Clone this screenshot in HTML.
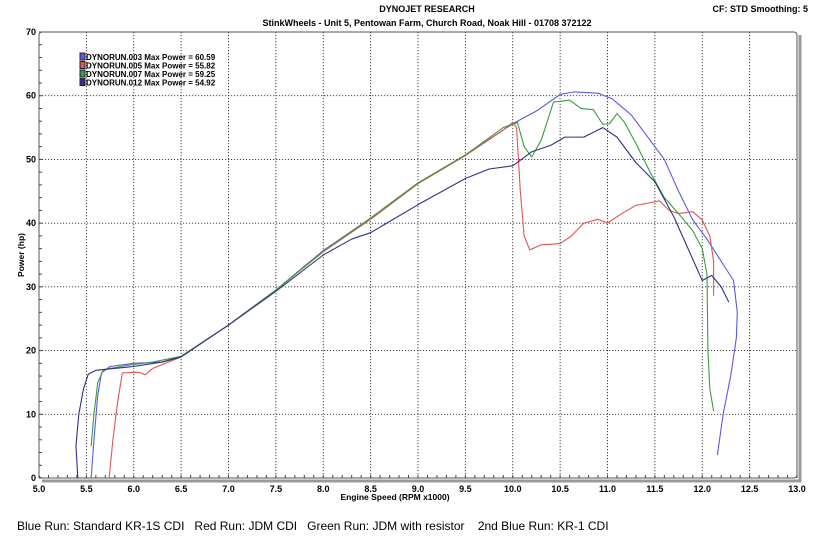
<!DOCTYPE html>
<html><head><meta charset="utf-8"><style>
body{margin:0;background:#fff;width:835px;height:549px;overflow:hidden;font-family:"Liberation Sans",sans-serif}
svg text{font-family:"Liberation Sans",sans-serif}
</style></head><body>
<svg id="c" width="835" height="549">
<text x="427" y="12" font-size="9" font-weight="bold" text-anchor="middle">DYNOJET RESEARCH</text>
<text x="427" y="26" font-size="9" font-weight="bold" text-anchor="middle">StinkWheels - Unit 5, Pentowan Farm, Church Road, Noak Hill - 01708 372122</text>
<text x="808" y="12" font-size="9" font-weight="bold" text-anchor="end">CF: STD  Smoothing: 5</text>
<text x="395" y="500" font-size="8.5" font-weight="bold" text-anchor="middle">Engine Speed (RPM x1000)</text>
<text transform="translate(24,255) rotate(-90)" font-size="8.5" font-weight="bold" text-anchor="middle">Power (hp)</text>
<text x="17" y="530" font-size="12">Blue Run: Standard KR-1S CDI &#160; Red Run: JDM CDI &#160; Green Run: JDM with resistor &#160;&#160; 2nd Blue Run: KR-1 CDI</text>
<g id="grid"></g><g id="series"></g><g id="legend"></g>
</svg>
<script>
const xTicks=[5.0,5.5,6.0,6.5,7.0,7.5,8.0,8.5,9.0,9.5,10.0,10.5,11.0,11.5,12.0,12.5,13.0];
const yTicks=[0,10,20,30,40,50,60,70];
const run003=[[5.55,0],[5.58,6],[5.62,13],[5.66,16.5],[5.75,17.5],[6.0,18],[6.3,18.2],[6.5,19.1],[7.0,24],[7.5,29.5],[8.0,35.7],[8.5,40.8],[9.0,46.3],[9.5,50.7],[10.0,55.6],[10.25,57.6],[10.5,60.2],[10.65,60.6],[10.9,60.4],[11.05,59.5],[11.25,57],[11.45,53],[11.6,50],[11.75,45],[11.9,40.5],[12.05,37.5],[12.2,34],[12.33,31],[12.37,26],[12.36,22],[12.3,16],[12.22,10],[12.16,3.6]];
const run005=[[5.74,0],[5.78,6],[5.83,12],[5.88,16.5],[6.05,16.6],[6.12,16.2],[6.2,17.2],[6.5,19],[7.0,24],[7.5,29.5],[8.0,35.5],[8.5,40.6],[9.0,46.2],[9.5,50.6],[9.9,54.6],[10.0,55.8],[10.04,55],[10.08,45],[10.12,38],[10.18,35.8],[10.3,36.6],[10.5,36.8],[10.62,38],[10.75,40],[10.9,40.6],[11.0,40],[11.15,41.5],[11.3,42.8],[11.45,43.2],[11.55,43.5],[11.65,42],[11.75,41.5],[11.9,41.8],[12.0,40.5],[12.08,38],[12.12,34],[12.12,28.6]];
const run007=[[5.55,5],[5.58,10],[5.62,15],[5.68,17],[5.9,17.6],[6.2,18.2],[6.5,19.1],[7.0,24],[7.5,29.5],[8.0,35.6],[8.5,40.8],[9.0,46.3],[9.5,50.7],[9.9,55],[10.05,55.8],[10.12,52],[10.2,50.4],[10.3,53],[10.43,59],[10.6,59.3],[10.72,58],[10.85,57.8],[10.95,55.5],[11.02,55.6],[11.1,57.2],[11.18,55.8],[11.3,52.5],[11.45,48],[11.6,44],[11.75,41.5],[11.9,38.8],[12.0,36],[12.05,32],[12.06,20],[12.08,14],[12.12,10.5]];
const run012=[[5.41,0],[5.39,5],[5.42,10],[5.47,14],[5.52,16.3],[5.6,16.9],[6.0,17.5],[6.3,18.2],[6.5,19],[7.0,24],[7.5,29.3],[8.0,35],[8.3,37.5],[8.5,38.5],[9.0,42.9],[9.5,47],[9.75,48.5],[10.0,49],[10.2,51.2],[10.4,52.2],[10.55,53.5],[10.75,53.5],[10.95,55],[11.1,53.5],[11.3,49.5],[11.5,46.5],[11.7,41],[11.85,36],[11.97,32],[12.0,31],[12.1,31.8],[12.2,30],[12.28,27.6]];
const runs=[{d:run003,c:"#5a5ae0",n:"run-003"},{d:run005,c:"#e05555",n:"run-005"},{d:run007,c:"#3d9b3d",n:"run-007"},{d:run012,c:"#30308a",n:"run-012"}];
const legendLabels=["DYNORUN.003 Max Power = 60.59","DYNORUN.005 Max Power = 55.82","DYNORUN.007 Max Power = 59.25","DYNORUN.012 Max Power = 54.92"];
const X0=39,X1=797,Y0=478,Y1=32;
function sx(v){return X0+(v-5)*(X1-X0)/8;}
function sy(v){return Y0-v*(Y0-Y1)/70;}
const NS="http://www.w3.org/2000/svg";
function mk(t,a,p){const e=document.createElementNS(NS,t);for(const k in a)e.setAttribute(k,a[k]);p.appendChild(e);return e;}
const g=document.getElementById('grid');
let sh=mk('path',{d:`M${X0+3} ${Y0+3} L${X1+3} ${Y0+3} L${X1+3} ${Y1+3}`,fill:'none',stroke:'#999',"stroke-width":3},g);


let fr=mk('rect',{x:X0,y:Y1,width:X1-X0,height:Y0-Y1,rx:3,fill:'#fff',stroke:'#555',"stroke-width":1},g);


xTicks.forEach((t,i)=>{
  if(i>0&&i<xTicks.length-1){let l=mk('line',{x1:sx(t),x2:sx(t),y1:Y1,y2:Y0,stroke:'#333',"stroke-dasharray":"1.2,1.8","stroke-width":0.9},g);
  
  }
  let tx=mk('text',{x:sx(t),y:Y0+14,"font-size":9,"font-weight":"bold","text-anchor":"middle"},g);tx.textContent=t.toFixed(1);
  
  
});
for(let v=5;v<=13.001;v+=0.1){mk('line',{x1:sx(v),x2:sx(v),y1:Y0-3,y2:Y0,stroke:'#444'},g);}
yTicks.forEach((t,i)=>{
  if(i>0&&i<yTicks.length-1){let l=mk('line',{x1:X0,x2:X1,y1:sy(t),y2:sy(t),stroke:'#333',"stroke-dasharray":"1.2,1.8","stroke-width":0.9},g);
  
  }
  let tx=mk('text',{x:X0-3,y:sy(t)+3,"font-size":9,"font-weight":"bold","text-anchor":"end"},g);tx.textContent=t;
  
  
});
for(let v=0;v<=70;v+=2){mk('line',{x1:X0,x2:X0+3,y1:sy(v),y2:sy(v),stroke:'#444'},g);}
const s=document.getElementById('series');
runs.forEach(r=>{
  let p=mk('polyline',{points:r.d.map(q=>sx(q[0])+','+sy(q[1])).join(' '),fill:'none',stroke:r.c,"stroke-width":1.1,"stroke-linejoin":"round"},s);
  
  
});
const lg=document.getElementById('legend');
legendLabels.forEach((t,i)=>{
  let y=53+i*8.5;
  let b=mk('rect',{x:80,y:y,width:5,height:7,fill:runs[i].c,stroke:'#223'},lg);
  
  
  let tx=mk('text',{x:86,y:y+7,"font-size":8,"font-weight":"bold"},lg);tx.textContent=t;
  
  
});
</script>
</body></html>
